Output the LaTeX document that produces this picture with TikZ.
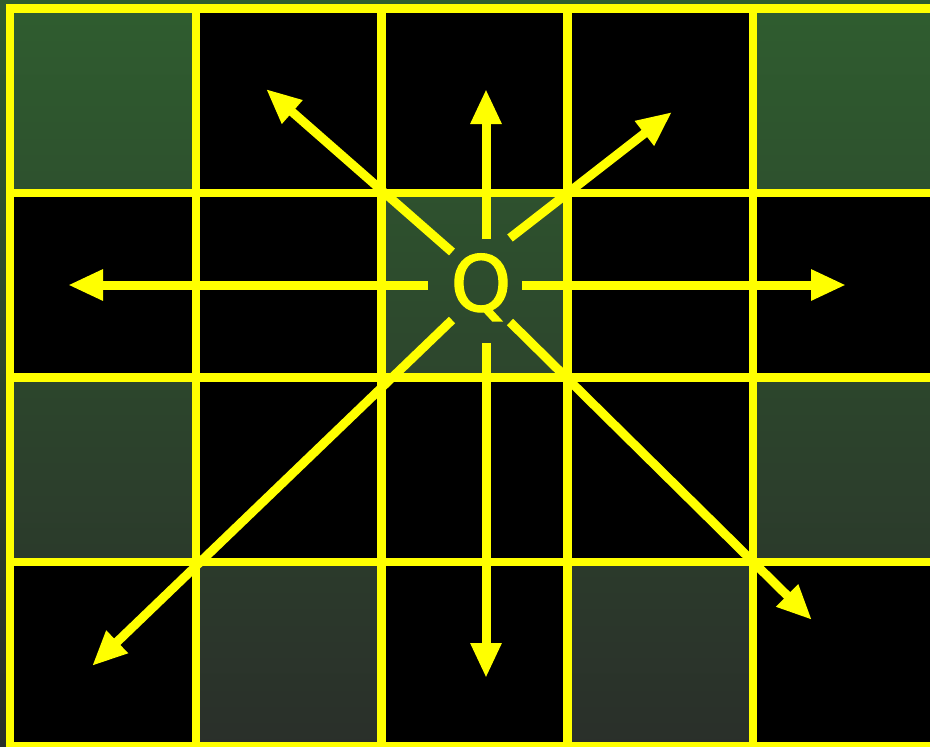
\documentclass[tikz,border=0pt]{standalone}
\usepackage{fontspec}
\newfontfamily\qfont[FakeBold=1.6]{DejaVu Sans}
\usetikzlibrary{arrows.meta}
\definecolor{qyellow}{RGB}{255,255,0}
\definecolor{gtop}{RGB}{47,93,47}
\definecolor{gbot}{RGB}{42,47,42}

\begin{document}
\begin{tikzpicture}[x=0.2mm, y=-0.2mm,
  gridline/.style={draw=qyellow, line width=1.7mm},
  cell/.style={fill=black},
  arr/.style={-{Triangle[length=7mm, width=5.8mm]}, qyellow, line width=1.8mm}
]
\useasboundingbox (0,0) rectangle (930,747);
% background
\shade[top color=gtop, bottom color=gbot] (0,0) rectangle (930,747);
% black cells
\foreach \c/\r in {1/0,2/0,3/0,0/1,1/1,3/1,4/1,1/2,2/2,3/2,0/3,2/3,4/3}
  \fill[cell] (10+185.75*\c, 8.5+184.5*\r) rectangle +(185.75,184.5);
% grid
\draw[gridline] (10,8.5) rectangle (939,746.5);
\foreach \c in {1,...,4}
  \draw[gridline] (10+185.75*\c, 8.5) -- (10+185.75*\c, 746.5);
\foreach \r in {1,2,3}
  \draw[gridline] (10, 8.5+184.5*\r) -- (939, 8.5+184.5*\r);
% centre
\node[text=qyellow, font=\qfont\fontsize{44}{52}\selectfont, inner sep=0, anchor=base] (q) at (481,311) {Q};
% arrows
\foreach \n/\sx/\sy/\tx/\ty in {n/486/239/486/89, s/486/343/486/678,
    w/428/285/68/285, e/522/285/846/285, nw/452/252/266/89,
    ne/510/238/672/112, sw/452/320/92/666, se/510/322/812/620}{
  \coordinate (\n-start) at (\sx,\sy);
  \coordinate (\n-tip) at (\tx,\ty);
  \draw[arr] (\n-start) -- (\n-tip);
}
\end{tikzpicture}
\end{document}
